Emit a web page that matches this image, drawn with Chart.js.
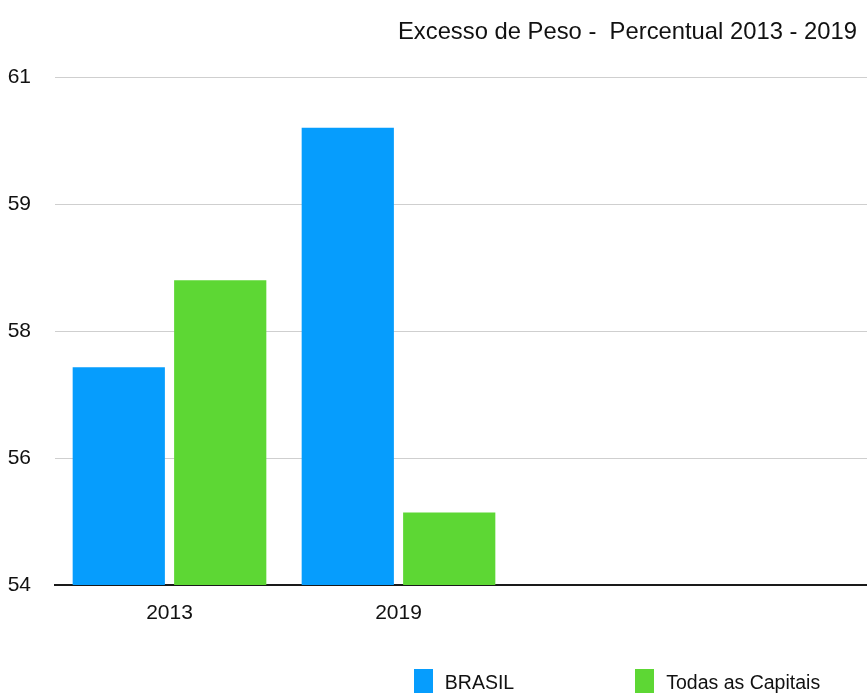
<!DOCTYPE html>
<html>
<head>
<meta charset="utf-8">
<script src="https://cdn.jsdelivr.net/npm/chart.js@4.4.0/dist/chart.umd.min.js"></script>
<style>
  html, body { margin: 0; padding: 0; background: #fff; overflow: hidden; }
  body { width: 867px; height: 693px; position: relative; font-family: 'Liberation Sans', Arial, sans-serif; color: #111; }
  #wrap { position: absolute; left: 0; top: 0; width: 982px; height: 693px; }
  #title { position: absolute; right: 10px; top: 17px; font-size: 23.8px; line-height: 28px; white-space: pre; }
  #legend { position: absolute; left: 0; top: 669px; width: 1234px; display: flex; justify-content: center; gap: 121px; }
  .item { display: flex; align-items: flex-start; font-size: 19.5px; line-height: 24px; }
  .box { width: 19px; height: 24px; margin-right: 12px; }
  .item span { position: relative; top: 1px; }
</style>
</head>
<body>
<div id="wrap"><canvas id="chart"></canvas></div>
<div id="title">Excesso de Peso -  Percentual 2013 - 2019</div>
<div id="legend"></div>
<script>
// data
const categories = ['2013', '2019'];
const brasil = [57.0, 60.3];
const capitais = [58.2, 55.0];
const seriesNames = ['BRASIL', 'Todas as Capitais'];
const colors = ['#069dfd', '#5dd734'];
const yMin = 54, yMax = 61, yStep = 1.75;

// the original plot keeps going to the right with empty slots
const labels = categories.concat(['', '']);

const chart = new Chart(document.getElementById('chart'), {
    type: 'bar',
    data: {
        labels: labels,
        datasets: [
            { label: seriesNames[0], data: brasil, backgroundColor: colors[0] },
            { label: seriesNames[1], data: capitais, backgroundColor: colors[1] }
        ]
    },
    options: {
        responsive: true,
        maintainAspectRatio: false,
        animation: false,
        categoryPercentage: 0.886,
        barPercentage: 0.909,
        layout: { padding: { top: 77, right: 11, bottom: 0, left: 0 } },
        plugins: {
            legend: { display: false },
            tooltip: { enabled: false },
            title: { display: false }
        },
        scales: {
            x: {
                grid: { display: false, drawTicks: false },
                border: { display: true, color: '#1a1a1a', width: 2 },
                ticks: {
                    color: '#111',
                    padding: 16,
                    maxRotation: 0,
                    font: { family: "'Liberation Sans', Arial, sans-serif", size: 21 }
                },
                afterFit: s => { s.height = 108; }
            },
            y: {
                min: yMin,
                max: yMax,
                grid: { color: '#cfcfcf', lineWidth: 1, drawTicks: false },
                border: { display: false },
                ticks: {
                    stepSize: yStep,
                    color: '#111',
                    padding: 24,
                    font: { family: "'Liberation Sans', Arial, sans-serif", size: 21 },
                    callback: v => Math.round(v)
                },
                afterFit: s => { s.width = 55; }
            }
        }
    }
});

// legend drawn as html so the wide gap between items can be kept
const legend = document.getElementById('legend');
chart.data.datasets.forEach(ds => {
    const item = document.createElement('div');
    item.className = 'item';
    item.innerHTML = '<div class="box" style="background:' + ds.backgroundColor + '"></div><span>' + ds.label + '</span>';
    legend.appendChild(item);
});
</script>
</body>
</html>
